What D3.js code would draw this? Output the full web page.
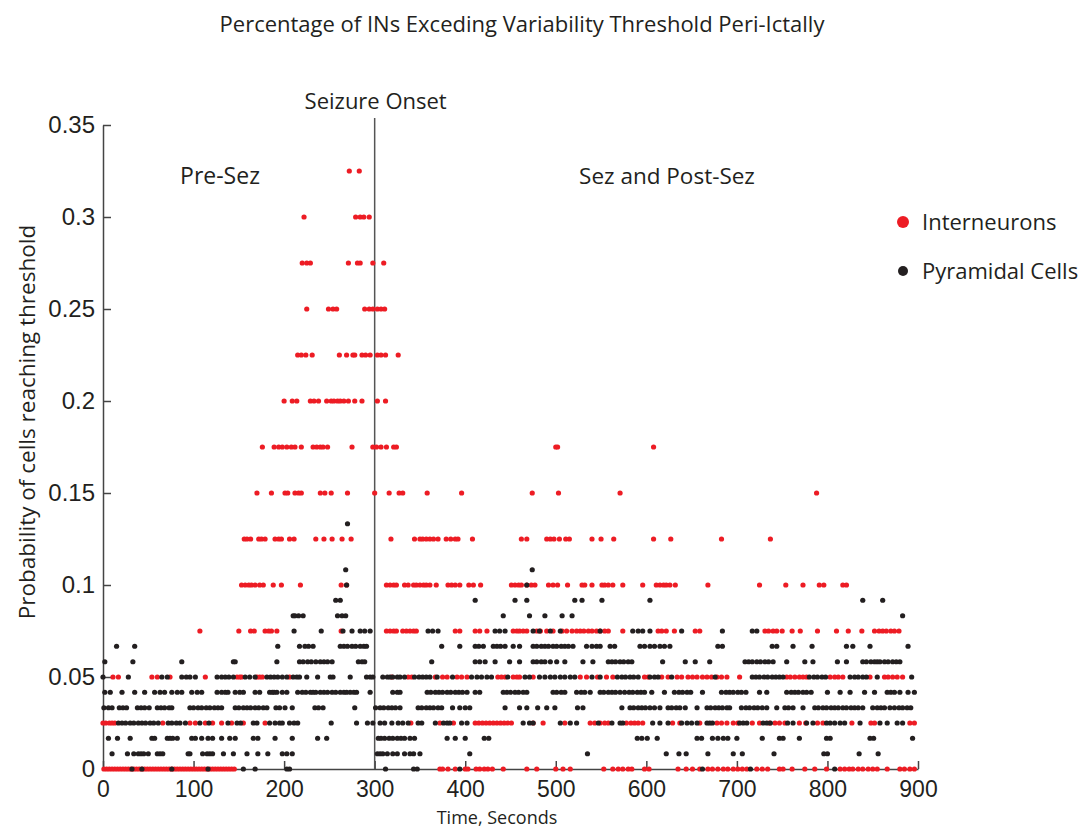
<!DOCTYPE html>
<html>
<head>
<meta charset="utf-8">
<script src="https://d3js.org/d3.v7.min.js"></script>
<style>
  body { margin: 0; background: #fff; }
  .lbl { font-family: "Open Sans", "Noto Sans", sans-serif; fill: #231f20; }
  .tick text { font-family: "Liberation Sans", Arial, sans-serif; font-size: 23px; fill: #231f20; }
  .y.axis .tick text { font-size: 24px; }
  .axis path, .axis line { stroke: #444; stroke-width: 1.5; }
</style>
</head>
<body>
<script>
// ---- data ----
var timeTicks = [0, 100, 200, 300, 400, 500, 600, 700, 800, 900];
var probTicks = [0, 0.05, 0.1, 0.15, 0.2, 0.25, 0.3, 0.35];
var probTickLabels = ["0", "0.05", "0.1", "0.15", "0.2", "0.25", "0.3", "0.35"];
var onsetTime = 300;

// interneurons: one list of times (s) for each probability level
var inLevels = [0, 0.025, 0.05, 0.075, 0.1, 0.125, 0.15, 0.175, 0.2, 0.225, 0.25, 0.275, 0.3, 0.325];
var inTimes = [
  [1,4,7,10,13,16,19,22,25,28,31,34,37,40,43,46,49,52,55,58,61,64,67,70,73,76,79,82,85,88,91,94,97,100,103,106,109,112,115,118,121,124,127,130,133,136,139,142,145,372,375,381,389,400,403,412,416,421,425,430,442,468,479,500,508,516,553,563,569,574,580,584,598,603,635,644,651,659,668,673,679,685,690,696,701,706,711,722,728,734,747,751,761,775,786,799,814,819,824,828,834,839,845,850,855,866,880,885,891,896],
  [0,3,7,10,13,66,96,102,113,121,131,142,155,179,340,372,387,411,415,419,423,427,431,435,439,443,447,451,475,486,510,538,543,549,554,558,578,583,587,591,596,629,637,659,678,683,689,696,701,717,725,736,742,747,753,769,776,789,795,827,848,852,891,896],
  [11,17,54,60,74,113,148,151,153,170,173,176,206,319,337,341,367,375,380,391,396,402,436,440,444,453,457,460,475,527,534,546,556,563,598,602,617,624,634,639,646,651,656,662,667,672,678,683,689,703,755,759,764,769,773,777,803,808,812,817,847,863,867,872,877,883],
  [107,150,163,167,179,183,186,192,263,313,317,321,324,331,335,339,343,346,389,394,411,416,424,453,457,460,464,468,479,483,490,497,507,512,518,523,527,531,536,540,545,549,554,558,574,613,617,622,631,654,659,731,735,740,744,750,761,770,789,810,823,838,852,857,861,865,870,874,879],
  [153,157,161,164,168,173,177,188,197,218,263,269,313,317,321,324,333,337,343,346,350,354,357,361,368,381,385,389,394,404,409,417,451,455,459,462,468,473,477,492,497,502,513,529,532,540,551,554,558,563,574,596,611,615,619,622,626,632,668,725,754,773,791,796,817,821],
  [156,159,163,172,175,179,190,194,197,206,211,235,244,253,264,274,318,344,350,353,357,361,365,370,379,384,389,392,408,462,468,490,494,498,504,511,515,540,550,564,608,627,683,737],
  [170,186,201,204,212,216,219,240,245,252,270,300,316,327,331,358,396,474,503,571,788],
  [176,189,194,198,203,208,212,219,232,236,240,243,248,275,298,302,307,313,321,324,500,502,608],
  [200,209,214,229,233,238,247,252,255,259,262,266,271,278,286,303,312],
  [215,219,224,231,261,269,276,278,286,290,295,303,307,312,326],
  [225,249,254,258,289,294,298,303,307,311],
  [220,225,229,271,281,284,298,310],
  [222,279,284,288,294],
  [272,283]
];

// pyramidal cells
var pcLevels = [0, 0.0083, 0.0167, 0.025, 0.0333, 0.0417, 0.05, 0.0583, 0.0667, 0.075, 0.0833, 0.0917, 0.1, 0.1083, 0.1167, 0.125, 0.1333];
var pcTimes = [
  [32,43,76,116,155,168,203,206,312,343,347,394,662,715,808],
  [10,27,34,39,42,45,50,60,63,66,94,96,110,115,118,121,133,144,159,171,182,198,203,209,303,306,309,314,320,325,333,339,343,350,405,535,622,636,644,668,696,706,741,796,800,835,856],
  [6,16,30,54,57,71,74,77,82,98,102,109,116,121,131,140,146,166,171,190,209,237,247,304,307,311,316,320,325,329,333,339,344,380,389,400,421,426,590,595,601,612,656,661,673,679,685,690,700,728,747,751,769,799,803,847,851,894],
  [17,21,25,30,34,39,43,47,52,56,61,72,76,81,85,91,107,117,138,148,152,166,170,184,190,195,198,206,211,215,252,280,292,298,306,311,319,326,331,337,348,352,367,376,380,383,396,402,464,471,475,505,516,523,547,562,571,574,607,615,624,639,645,650,656,667,670,673,703,707,711,729,733,737,756,762,777,784,799,803,808,814,819,836,858,866,877,883],
  [1,6,10,18,22,26,38,42,46,51,60,64,68,73,76,96,100,105,109,114,118,123,127,131,146,150,155,159,163,168,172,177,181,191,195,201,209,234,238,243,278,301,306,310,315,319,323,328,348,352,357,361,365,370,374,386,394,400,405,444,460,468,480,490,499,524,530,573,582,586,591,595,599,604,609,615,624,628,633,637,643,656,667,671,676,680,684,689,692,705,710,714,719,723,728,733,744,753,757,762,773,786,790,795,799,804,808,812,817,821,826,830,834,839,850,855,859,863,869,874,879,883,888,892],
  [2,8,21,35,46,57,63,68,76,82,87,98,104,109,126,131,135,138,146,151,155,168,173,184,187,189,192,198,203,215,220,224,229,232,235,240,244,248,253,257,262,266,269,273,277,280,295,320,325,328,358,362,367,371,375,380,384,389,393,397,402,411,416,442,446,450,455,459,464,468,497,501,506,510,523,528,532,538,549,553,558,562,566,571,576,581,585,590,594,598,606,620,631,636,640,645,649,662,683,688,692,696,701,705,710,725,733,755,760,764,768,773,777,782,800,814,825,841,852,866,870,874,880,889,896],
  [0,28,65,71,87,92,96,102,126,131,135,139,144,157,162,168,181,185,189,193,198,203,210,214,217,225,237,251,254,273,291,295,298,309,314,317,320,325,328,333,344,349,353,357,361,369,386,407,413,418,424,429,447,466,471,482,488,494,499,505,510,516,521,540,549,568,573,577,582,586,591,604,609,613,628,676,717,721,725,730,734,739,743,747,751,780,785,789,794,798,825,830,834,839,843,855,893],
  [2,33,87,144,146,192,217,221,226,230,235,240,244,248,253,282,286,289,363,411,416,422,433,449,460,475,479,484,488,494,501,510,530,541,558,562,566,571,575,580,584,618,643,654,670,709,713,717,722,726,731,735,740,755,775,784,811,821,839,843,848,852,855,858,863,867,872,876,880],
  [15,35,193,217,223,227,232,262,266,270,275,279,284,288,291,374,394,411,415,420,431,435,439,444,453,460,475,479,484,488,492,497,501,506,510,514,519,534,540,545,549,560,565,593,598,604,609,615,620,626,679,684,739,744,762,783,821,828,847,889],
  [211,241,265,275,284,289,295,359,364,370,433,438,444,475,482,494,505,549,585,591,596,604,639,684,717,722],
  [210,212,216,221,259,264,268,442,471,488,507,518,883],
  [257,262,411,455,468,521,529,551,604,839,861],
  [269,468],
  [268,474],
  [],
  [],
  [270]
];

var seriesNames = ["Interneurons", "Pyramidal Cells"];
var seriesColors = ["#ed1c24", "#231f20"];

// ---- layout ----
var width = 1083, height = 828;
var margin = {top: 125, right: 165, bottom: 59, left: 103};

var svg = d3.select("body").append("svg")
    .attr("width", width)
    .attr("height", height);

var x = d3.scaleLinear().domain([0, 900]).range([margin.left, width - margin.right]);
var y = d3.scaleLinear().domain([0, 0.35]).range([height - margin.bottom, margin.top]);

function toPoints(levels, times) {
  var pts = [];
  levels.forEach(function(v, i) {
    times[i].forEach(function(t) { pts.push({t: t, v: v}); });
  });
  return pts;
}
var inPoints = toPoints(inLevels, inTimes);
var pcPoints = toPoints(pcLevels, pcTimes);

// axes
var yAxis = d3.axisLeft(y)
    .tickValues(probTicks)
    .tickFormat(function(d, i) { return probTickLabels[i]; })
    .tickSizeInner(-8).tickSizeOuter(0).tickPadding(8);
var xAxis = d3.axisBottom(x)
    .tickValues(timeTicks)
    .tickFormat(d3.format("d"))
    .tickSizeInner(-8).tickSizeOuter(0).tickPadding(12);

svg.append("g").attr("class", "y axis")
    .attr("transform", "translate(" + margin.left + ",0)")
    .call(yAxis);
svg.append("g").attr("class", "x axis")
    .attr("transform", "translate(0," + (height - margin.bottom) + ")")
    .call(xAxis);
svg.selectAll(".tick text").attr("fill", "#231f20");

// seizure onset line
svg.append("line")
    .attr("x1", x(onsetTime)).attr("x2", x(onsetTime))
    .attr("y1", y(0.35) - 7).attr("y2", y(0))
    .attr("stroke", "#555").attr("stroke-width", 1.5);

// dots
var dots = svg.append("g");
dots.selectAll("circle.in").data(inPoints).enter().append("circle")
    .attr("class", "in")
    .attr("cx", function(d) { return x(d.t); })
    .attr("cy", function(d) { return y(d.v); })
    .attr("r", 2.6)
    .attr("fill", seriesColors[0]);
dots.selectAll("circle.pc").data(pcPoints).enter().append("circle")
    .attr("class", "pc")
    .attr("cx", function(d) { return x(d.t); })
    .attr("cy", function(d) { return y(d.v); })
    .attr("r", 2.6)
    .attr("fill", seriesColors[1]);

// texts
svg.append("text").attr("class", "lbl")
    .attr("x", 522).attr("y", 32)
    .attr("text-anchor", "middle").style("font-size", "22px")
    .text("Percentage of INs Exceding Variability Threshold Peri-Ictally");
svg.append("text").attr("class", "lbl")
    .attr("x", x(onsetTime) + 1).attr("y", 109)
    .attr("text-anchor", "middle").style("font-size", "22px")
    .text("Seizure Onset");
svg.append("text").attr("class", "lbl")
    .attr("x", 220).attr("y", 184)
    .attr("text-anchor", "middle").style("font-size", "23px")
    .text("Pre-Sez");
svg.append("text").attr("class", "lbl")
    .attr("x", 667).attr("y", 184)
    .attr("text-anchor", "middle").style("font-size", "22.5px")
    .text("Sez and Post-Sez");
svg.append("text").attr("class", "lbl")
    .attr("transform", "translate(35,422) rotate(-90)")
    .attr("text-anchor", "middle").style("font-size", "22.5px")
    .text("Probability of cells reaching threshold");
svg.append("text").attr("class", "lbl")
    .attr("x", 497).attr("y", 824)
    .attr("text-anchor", "middle").style("font-size", "18px")
    .text("Time, Seconds");

// legend
var legend = svg.append("g").attr("transform", "translate(903,222)");
seriesNames.forEach(function(name, i) {
  var row = legend.append("g").attr("transform", "translate(0," + (i * 49) + ")");
  row.append("circle").attr("r", i === 0 ? 6 : 5).attr("fill", seriesColors[i]);
  row.append("text").attr("class", "lbl")
      .attr("x", 19).attr("y", 8)
      .style("font-size", "22px")
      .text(name);
});
</script>
</body>
</html>
